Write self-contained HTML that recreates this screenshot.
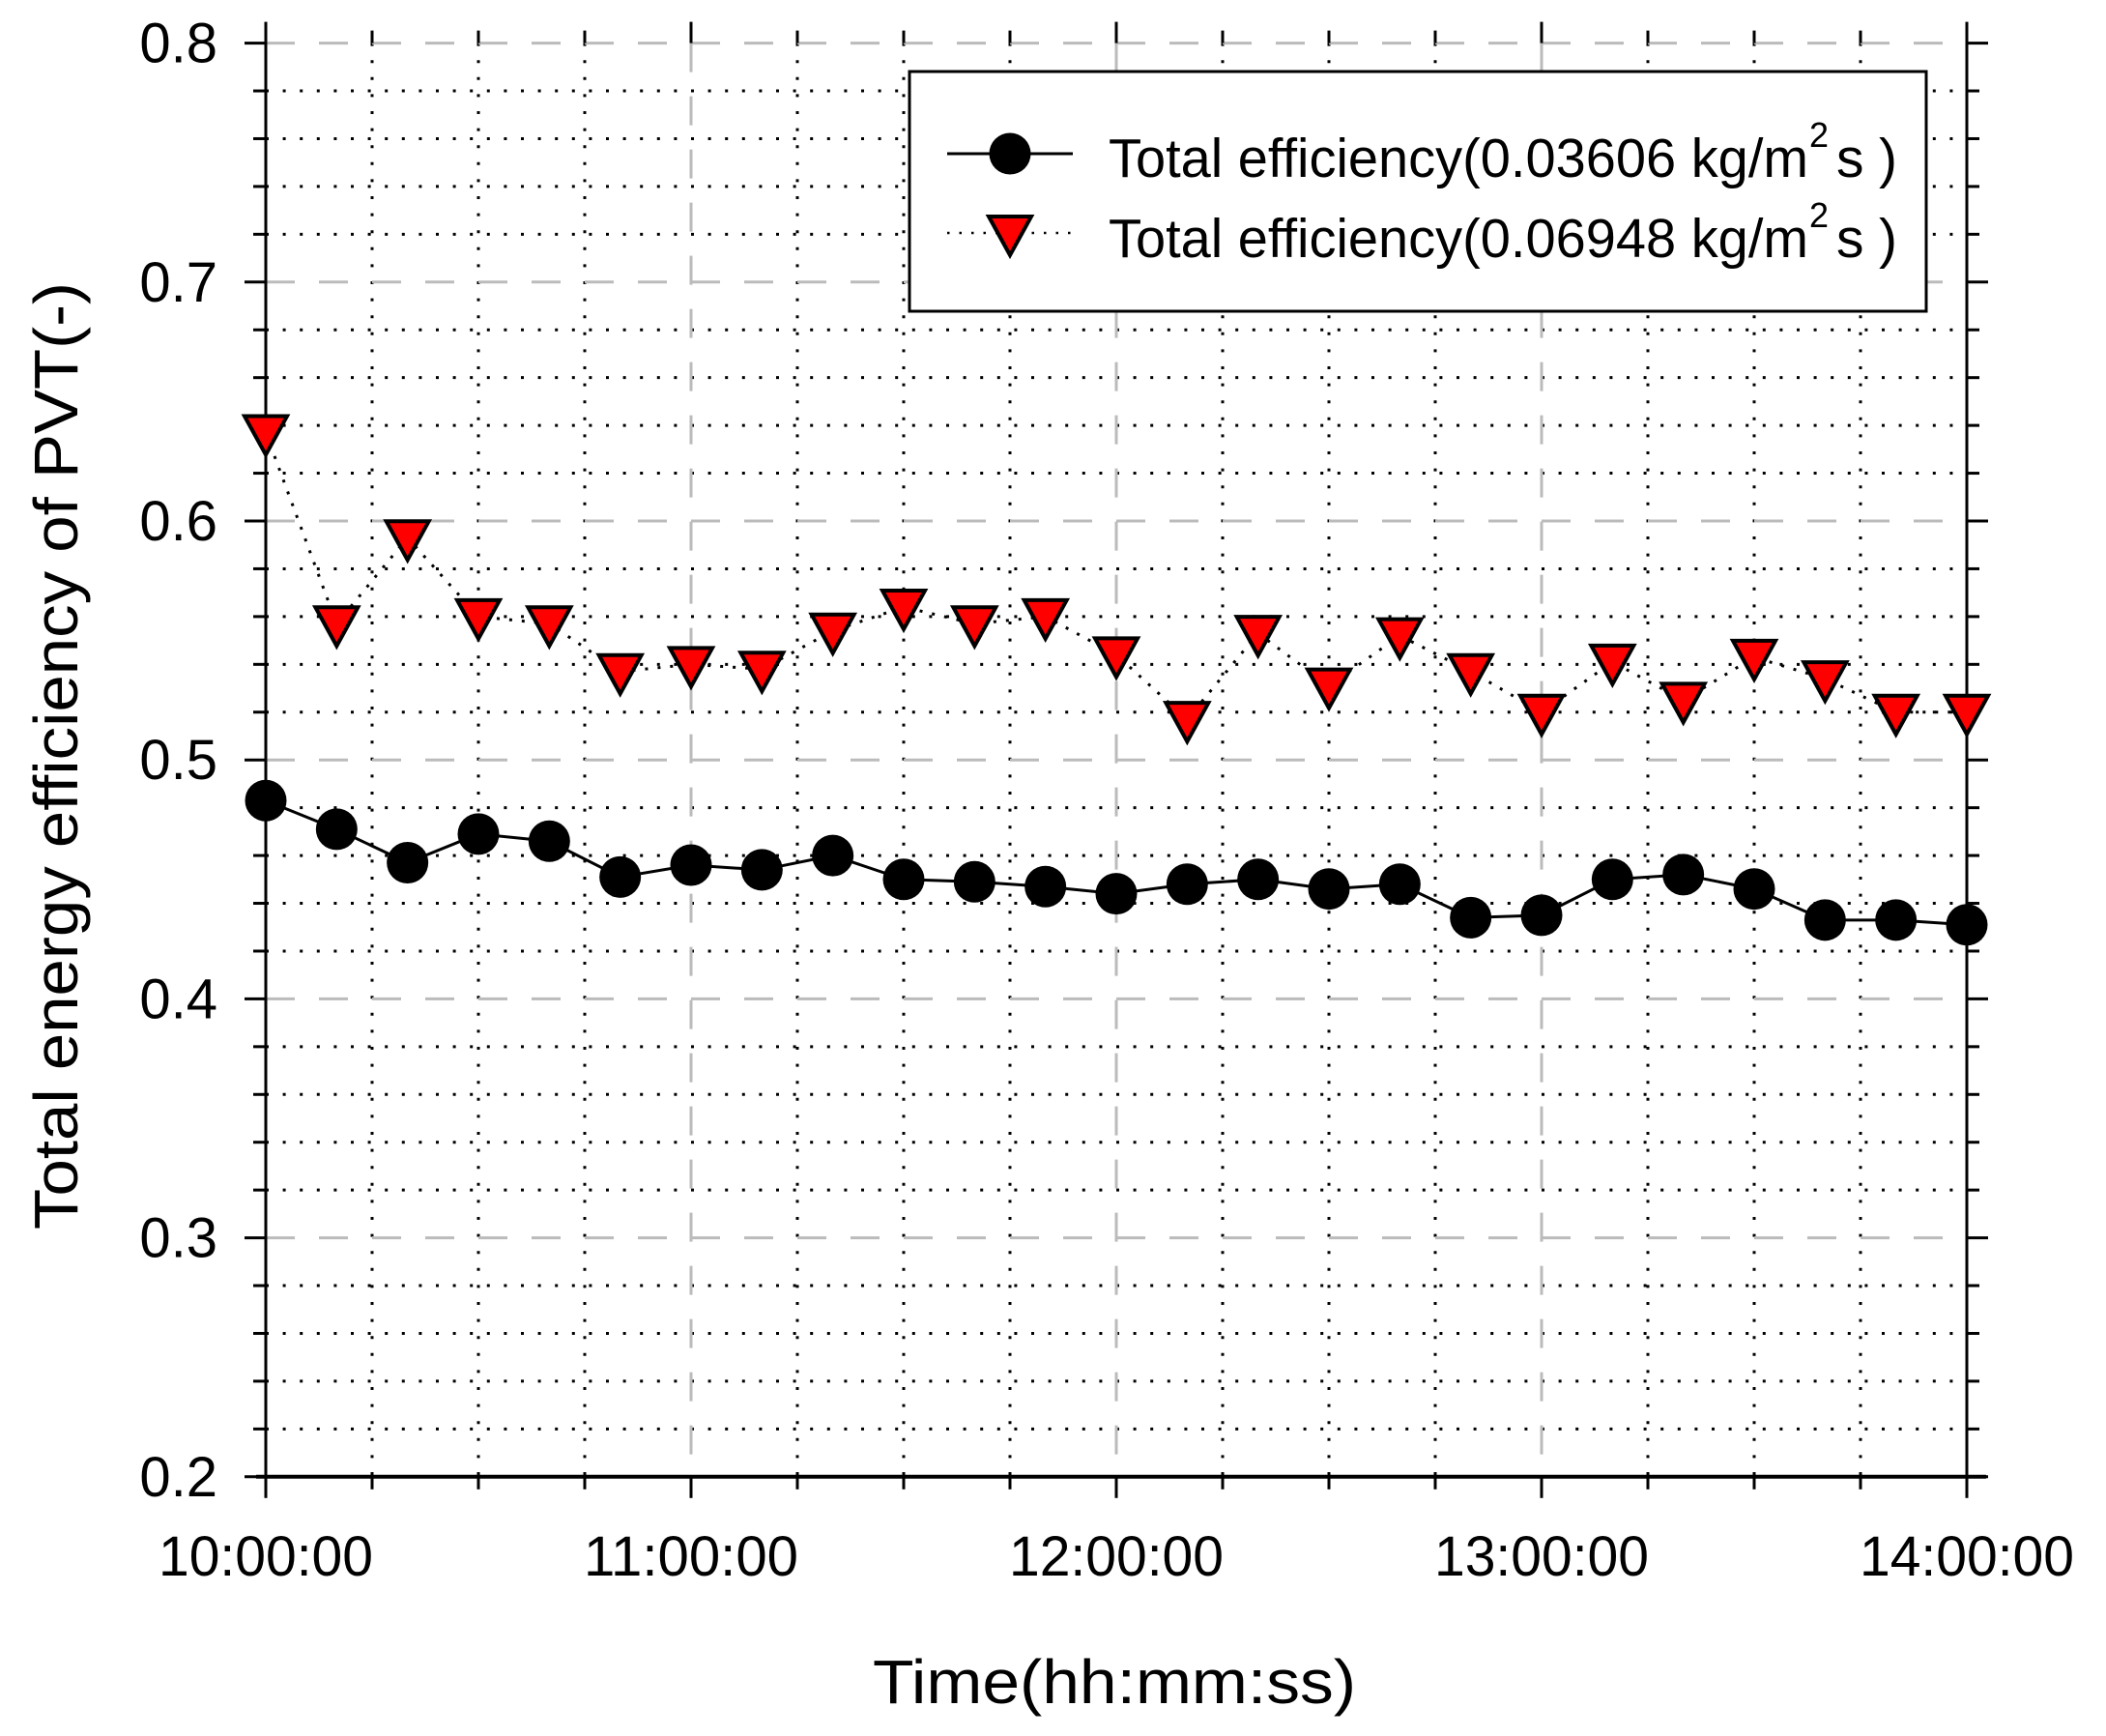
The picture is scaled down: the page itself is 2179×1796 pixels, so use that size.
<!DOCTYPE html>
<html><head><meta charset="utf-8"><style>html,body{margin:0;padding:0;background:#fff}svg{display:block}</style></head>
<body>
<svg id="s" width="2179" height="1796" xmlns="http://www.w3.org/2000/svg" font-family="Liberation Sans, Arial, sans-serif">
<rect width="2179" height="1796" fill="#fff"/>
<g id="grid"></g>
<g id="data"></g>
<!-- legend -->
<rect x="941" y="74" width="1052" height="248" fill="#fff" stroke="#000" stroke-width="3"/>
<line x1="980" y1="159" x2="1110" y2="159" stroke="#000" stroke-width="3"/>
<circle cx="1045" cy="159" r="21.5" fill="#000"/>
<line x1="980" y1="241" x2="1110" y2="241" stroke="#000" stroke-width="2.5" stroke-dasharray="2.5,10"/>
<polygon points="1023,224 1067,224 1045,264" fill="#f00" stroke="#000" stroke-width="4" stroke-linejoin="miter"/>
<text x="1147" y="183" font-size="57" textLength="724" lengthAdjust="spacingAndGlyphs">Total efficiency(0.03606 kg/m</text>
<text x="1872" y="152" font-size="36">2</text>
<text x="1900" y="183" font-size="57">s</text>
<text x="1944" y="183" font-size="57">)</text>
<text x="1147" y="266" font-size="57" textLength="724" lengthAdjust="spacingAndGlyphs">Total efficiency(0.06948 kg/m</text>
<text x="1872" y="235" font-size="36">2</text>
<text x="1900" y="266" font-size="57">s</text>
<text x="1944" y="266" font-size="57">)</text>
<text x="1153" y="1762" font-size="64" text-anchor="middle" textLength="500" lengthAdjust="spacingAndGlyphs">Time(hh:mm:ss)</text>
<text transform="translate(80,782) rotate(-90)" font-size="64" text-anchor="middle" textLength="980" lengthAdjust="spacingAndGlyphs">Total energy efficiency of PVT(-)</text>
</svg>
<script>
const NS="http://www.w3.org/2000/svg";
const X0=275,HX=440,Y0=44.6,K=2472;
const X=h=>X0+h*HX, Y=v=>Y0+(0.8-v)*K;
const g=document.getElementById('grid'), d=document.getElementById('data');
function el(p,tag,a,t){const e=document.createElementNS(NS,tag);for(const k in a)e.setAttribute(k,a[k]);if(t)e.textContent=t;p.appendChild(e);return e;}
for(let i=1;i<30;i++){const v=0.2+i*0.02;if(i%5==0)continue;
 el(g,'line',{x1:X0,x2:X(4),y1:Y(v),y2:Y(v),stroke:'#000','stroke-width':3,'stroke-dasharray':'3,14.6'});}
for(let i=1;i<16;i++){if(i%4==0)continue;const x=X(i/4);
 el(g,'line',{x1:x,x2:x,y1:Y(0.8),y2:Y(0.2),stroke:'#000','stroke-width':3,'stroke-dasharray':'3,14.6'});}
for(let i=1;i<=6;i++){const y=Y(0.2+i*0.1);
 el(g,'line',{x1:X0,x2:X(4),y1:y,y2:y,stroke:'#bbb','stroke-width':3,'stroke-dasharray':'30,25'});}
for(let i=1;i<4;i++){const x=X(i);
 el(g,'line',{x1:x,x2:x,y1:Y(0.8),y2:Y(0.2),stroke:'#bbb','stroke-width':3,'stroke-dasharray':'30,25'});}
el(g,'line',{x1:X0,x2:X0,y1:Y(0.8)-15,y2:Y(0.2)+20,stroke:'#000','stroke-width':3});
el(g,'line',{x1:X(4),x2:X(4),y1:Y(0.8)-15,y2:Y(0.2)+20,stroke:'#000','stroke-width':3});
el(g,'line',{x1:X0-10,x2:X(4)+20,y1:Y(0.2),y2:Y(0.2),stroke:'#000','stroke-width':4});
for(let i=0;i<=30;i++){const v=0.2+i*0.02,y=Y(v),maj=i%5==0,L=maj?22:13;
 el(g,'line',{x1:X0-L,x2:X0,y1:y,y2:y,stroke:'#000','stroke-width':3});
 el(g,'line',{x1:X(4),x2:X(4)+L,y1:y,y2:y,stroke:'#000','stroke-width':3});
 if(maj) el(g,'text',{x:225,y:y+20,'font-size':58,'text-anchor':'end'},(Math.round(v*10)/10).toFixed(1));}
for(let i=0;i<=16;i++){const x=X(i/4),maj=i%4==0,L=maj?22:13;
 el(g,'line',{x1:x,x2:x,y1:Y(0.2),y2:Y(0.2)+L,stroke:'#000','stroke-width':3});
 el(g,'line',{x1:x,x2:x,y1:Y(0.8)-L,y2:Y(0.8),stroke:'#000','stroke-width':3});
 if(maj) el(g,'text',{x:x,y:1630,'font-size':58,'text-anchor':'middle',textLength:222,lengthAdjust:'spacingAndGlyphs'},(10+i/4)+':00:00');}
const c=[0.483,0.471,0.457,0.469,0.466,0.451,0.456,0.454,0.460,0.450,0.449,0.447,0.444,0.448,0.450,0.446,0.448,0.434,0.435,0.450,0.452,0.446,0.433,0.433,0.431];
const t=[0.637,0.557,0.593,0.560,0.557,0.537,0.540,0.538,0.554,0.564,0.557,0.560,0.544,0.517,0.553,0.531,0.552,0.537,0.520,0.541,0.525,0.543,0.534,0.520,0.520];
const px=i=>X(i/6);
el(d,'polyline',{points:c.map((v,i)=>px(i)+','+Y(v)).join(' '),fill:'none',stroke:'#000','stroke-width':3});
el(d,'polyline',{points:t.map((v,i)=>px(i)+','+Y(v)).join(' '),fill:'none',stroke:'#000','stroke-width':3,'stroke-dasharray':'3,10'});
c.forEach((v,i)=>el(d,'circle',{cx:px(i),cy:Y(v),r:21.5,fill:'#000'}));
t.forEach((v,i)=>{const x=px(i),y=Y(v);
 el(d,'polygon',{points:`${x-22},${y-17} ${x+22},${y-17} ${x},${y+23}`,fill:'#f00',stroke:'#000','stroke-width':4});});
</script>
</body></html>
